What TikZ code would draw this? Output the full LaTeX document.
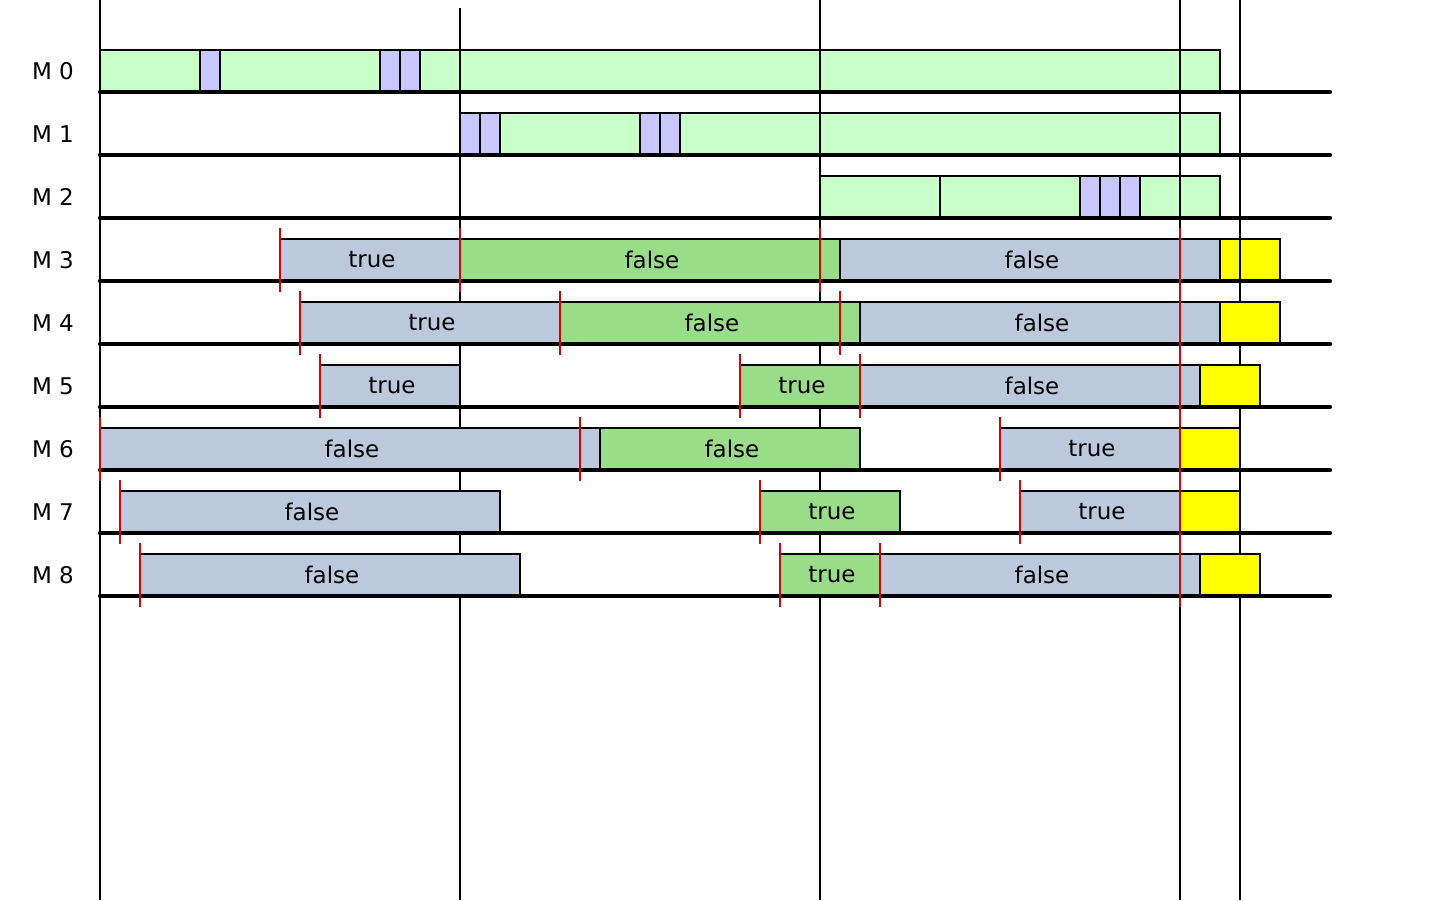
\documentclass[tikz,border=0pt]{standalone}
\usepackage{fontspec}
\setmainfont{DejaVu Sans}
\definecolor{paleg}{HTML}{C8FFC8}
\definecolor{lav}{HTML}{C8C8FF}
\definecolor{steel}{HTML}{BCC8DC}
\definecolor{midg}{HTML}{99DD88}
\definecolor{tickred}{HTML}{DD0000}
\definecolor{yel}{HTML}{FFFF00}
\tikzset{
  blkbox/.style={draw=black, line width=2.6pt},
  lbl/.style={font=\fontsize{23}{26}\selectfont, inner sep=0pt},
  rowlbl/.style={font=\fontsize{23}{26}\selectfont, inner sep=0pt},
  vline/.style={draw=black, line width=2.6pt},
  baseln/.style={draw=black, line width=4.4pt, line cap=round},
  tickline/.style={draw=tickred, line width=2pt},
}
% one bar segment: row, left x, right x, fill, text
\newcommand\blk[5]{%
  \pgfmathsetmacro\blkb{92+63*#1}%
  \pgfmathsetmacro\blkt{\blkb-42}%
  \pgfmathsetmacro\blkm{(#2+#3)/2+2}%
  \draw[blkbox, fill=#4] (#2,\blkt) rectangle (#3,\blkb);
  \node[lbl] at (\blkm,\blkb-21) {#5};
}
% short red marker on a row at a given x
\newcommand\rtick[2]{%
  \pgfmathsetmacro\rtb{92+63*#1}%
  \draw[tickline] (#2,\rtb-53) -- (#2,\rtb+11);
}
\begin{document}
\begin{tikzpicture}[x=1pt,y=-1pt]
\useasboundingbox (0,0) rectangle (1440,900);

% time grid
\coordinate (v0t) at (100,0);   \coordinate (v0b) at (100,900);
\coordinate (v1t) at (460,8);   \coordinate (v1b) at (460,900);
\coordinate (v2t) at (820,0);   \coordinate (v2b) at (820,900);
\coordinate (v3t) at (1180,0);  \coordinate (v3b) at (1180,900);
\coordinate (v4t) at (1240,0);  \coordinate (v4b) at (1240,900);
\foreach \a in {0,...,4} \draw[vline] (v\a t) -- (v\a b);

% rows M3 .. M8
\blk{3}{280}{460}{steel}{true}
\blk{3}{460}{840}{midg}{false}
\blk{3}{840}{1220}{steel}{false}
\blk{3}{1220}{1280}{yel}{}

\blk{4}{300}{560}{steel}{true}
\blk{4}{560}{860}{midg}{false}
\blk{4}{860}{1220}{steel}{false}
\blk{4}{1220}{1280}{yel}{}

\blk{5}{320}{460}{steel}{true}
\blk{5}{740}{860}{midg}{true}
\blk{5}{860}{1200}{steel}{false}
\blk{5}{1200}{1260}{yel}{}

\blk{6}{100}{600}{steel}{false}
\blk{6}{600}{860}{midg}{false}
\blk{6}{1000}{1180}{steel}{true}
\blk{6}{1180}{1240}{yel}{}

\blk{7}{120}{500}{steel}{false}
\blk{7}{760}{900}{midg}{true}
\blk{7}{1020}{1180}{steel}{true}
\blk{7}{1180}{1240}{yel}{}

\blk{8}{140}{520}{steel}{false}
\blk{8}{780}{880}{midg}{true}
\blk{8}{880}{1200}{steel}{false}
\blk{8}{1200}{1260}{yel}{}

% rows M0 .. M2
\blk{0}{100}{200}{paleg}{}
\blk{0}{200}{220}{lav}{}
\blk{0}{220}{380}{paleg}{}
\blk{0}{380}{400}{lav}{}
\blk{0}{400}{420}{lav}{}
\blk{0}{420}{1220}{paleg}{}

\blk{1}{460}{480}{lav}{}
\blk{1}{480}{500}{lav}{}
\blk{1}{500}{640}{paleg}{}
\blk{1}{640}{660}{lav}{}
\blk{1}{660}{680}{lav}{}
\blk{1}{680}{1220}{paleg}{}

\blk{2}{820}{940}{paleg}{}
\blk{2}{940}{1080}{paleg}{}
\blk{2}{1080}{1100}{lav}{}
\blk{2}{1100}{1120}{lav}{}
\blk{2}{1120}{1140}{lav}{}
\blk{2}{1140}{1220}{paleg}{}

% grid lines shown on top of the upper rows
\draw[vline] (v1t) -- (460,218);
\draw[vline] (v2t) -- (820,218);
\draw[vline] (v3t) -- (1180,218);
\draw[vline] (v4t) -- (1240,218);
\draw[vline] (1240,239) -- (1240,281);

% row baselines and labels
\foreach \r in {0,...,8} {
  \pgfmathsetmacro\yb{92+63*\r}
  \draw[baseln] (100,\yb) -- (1330,\yb);
  \node[rowlbl] (m\r) at (53,\yb-21) {M \r};
}

% red markers
\rtick{3}{280} \rtick{3}{460} \rtick{3}{820}
\rtick{4}{300} \rtick{4}{560} \rtick{4}{840}
\rtick{5}{320} \rtick{5}{740} \rtick{5}{860}
\rtick{6}{100} \rtick{6}{580} \rtick{6}{1000}
\rtick{7}{120} \rtick{7}{760} \rtick{7}{1020}
\rtick{8}{140} \rtick{8}{780} \rtick{8}{880}
\coordinate (rt) at (1180,228);
\coordinate (rb) at (1180,607);
\draw[tickline] (rt) -- (rb);
\end{tikzpicture}
\end{document}
